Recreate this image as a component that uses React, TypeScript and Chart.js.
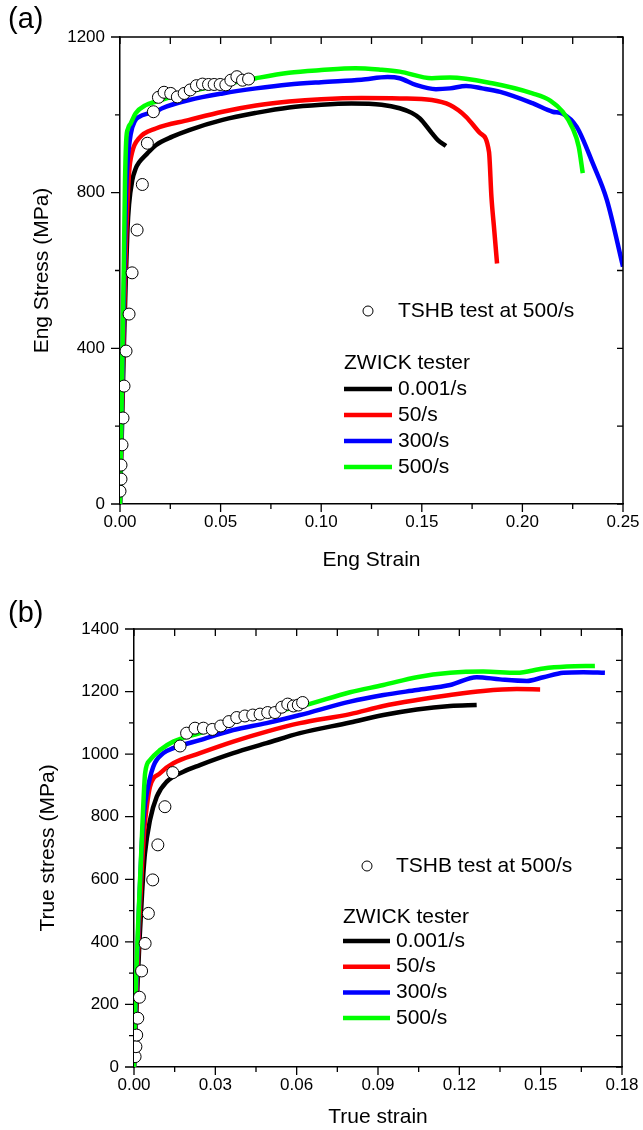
import React, { useEffect, useRef } from 'react';
import { Chart, registerables } from 'chart.js';

Chart.register(...registerables);

const FONT = '"Liberation Sans", Arial, Helvetica, sans-serif';

// ---------- shared labels / colours ----------
const rateLabels = ['0.001/s', '50/s', '300/s', '500/s'];
const rateColors = ['#000000', '#ff0000', '#0000ff', '#00ff00'];
const tshbLabel = 'TSHB test at 500/s';
const zwickTitle = 'ZWICK tester';

// ---------- (a) engineering stress-strain ----------
const engXTicks = [0, 0.05, 0.1, 0.15, 0.2, 0.25];
const engYTicks = [0, 400, 800, 1200];

const eng0001: [number, number][] = [
  [0, 0], [0.001, 200], [0.002, 420], [0.003, 600], [0.0037, 704], [0.0045, 770], [0.0061, 832],
  [0.0078, 862], [0.0095, 878], [0.0136, 901], [0.0178, 922], [0.026, 944], [0.0344, 961],
  [0.051, 987], [0.0676, 1005], [0.084, 1019], [0.1, 1026], [0.115, 1029], [0.13, 1026],
  [0.139, 1017], [0.145, 1005], [0.149, 991], [0.155, 953], [0.158, 935], [0.162, 920],
];
const eng50: [number, number][] = [
  [0, 0], [0.001, 250], [0.002, 480], [0.003, 680], [0.0045, 850], [0.0061, 905], [0.0095, 940],
  [0.0178, 965], [0.0344, 987], [0.051, 1008], [0.0676, 1024], [0.084, 1034], [0.1, 1040],
  [0.12, 1043], [0.139, 1042], [0.155, 1038], [0.164, 1025], [0.172, 995], [0.179, 953],
  [0.1834, 905], [0.1846, 790], [0.186, 704], [0.1874, 618],
];
const eng300: [number, number][] = [
  [0, 0], [0.001, 280], [0.002, 560], [0.003, 800], [0.0037, 875], [0.0053, 950], [0.0075, 985],
  [0.0095, 995], [0.0144, 1004], [0.0178, 1008], [0.021, 1017], [0.0344, 1038], [0.051, 1055],
  [0.0676, 1068], [0.084, 1078], [0.1, 1084], [0.12, 1090], [0.133, 1097], [0.139, 1094],
  [0.147, 1077], [0.157, 1066], [0.164, 1068], [0.172, 1074], [0.18, 1068], [0.189, 1059],
  [0.205, 1030], [0.215, 1008], [0.22, 1003], [0.227, 969], [0.235, 875], [0.242, 781], [0.25, 610],
];
const eng500: [number, number][] = [
  [0, 0], [0.001, 320], [0.002, 650], [0.0025, 832], [0.0031, 935], [0.004, 965], [0.0053, 978],
  [0.0078, 1004], [0.0128, 1025], [0.0178, 1034], [0.026, 1047], [0.0344, 1060], [0.051, 1077],
  [0.0676, 1094], [0.084, 1108], [0.1, 1115], [0.117, 1120], [0.13, 1116], [0.139, 1111],
  [0.155, 1094], [0.164, 1096], [0.185, 1081], [0.205, 1055], [0.214, 1036], [0.22, 1008],
  [0.225, 965], [0.228, 918], [0.23, 850],
];
const engTshb: [number, number][] = [
  [0, 33], [0.0005, 64], [0.0005, 100], [0.001, 152], [0.0015, 221], [0.002, 303], [0.003, 393],
  [0.0045, 488], [0.006, 594], [0.0085, 704], [0.0111, 821], [0.0136, 927], [0.0166, 1008],
  [0.0191, 1045], [0.0219, 1058], [0.0252, 1055], [0.0285, 1046], [0.0319, 1055], [0.0349, 1064],
  [0.038, 1075], [0.041, 1079], [0.044, 1078], [0.0468, 1078], [0.0498, 1078], [0.0526, 1077],
  [0.0551, 1089], [0.0581, 1098], [0.0609, 1089], [0.0639, 1092],
];

// ---------- (b) true stress-strain ----------
const trueXTicks = [0, 0.03, 0.06, 0.09, 0.12, 0.15, 0.18];
const trueYTicks = [0, 200, 400, 600, 800, 1000, 1200, 1400];

const true0001: [number, number][] = [
  [0, 0], [0.001, 200], [0.002, 400], [0.003, 560], [0.004, 680], [0.0059, 789], [0.0084, 864],
  [0.0121, 912], [0.0182, 944], [0.0243, 965], [0.0366, 1003], [0.0489, 1035], [0.0612, 1067],
  [0.0797, 1101], [0.092, 1125], [0.1043, 1143], [0.1166, 1154], [0.1264, 1157],
];
const true50: [number, number][] = [
  [0, 0], [0.001, 250], [0.002, 480], [0.003, 650], [0.0038, 760], [0.0047, 832], [0.0059, 896],
  [0.0096, 939], [0.0145, 971], [0.0243, 1003], [0.0366, 1040], [0.0489, 1072], [0.0612, 1099],
  [0.0797, 1128], [0.092, 1154], [0.1043, 1173], [0.1166, 1189], [0.1288, 1202], [0.1412, 1208],
  [0.1498, 1207],
];
const true300: [number, number][] = [
  [0, 0], [0.0008, 250], [0.0018, 500], [0.0028, 700], [0.0038, 820], [0.0047, 875], [0.0071, 960],
  [0.0108, 1003], [0.0145, 1019], [0.0243, 1045], [0.0366, 1077], [0.0489, 1099], [0.0612, 1125],
  [0.0797, 1168], [0.092, 1189], [0.1043, 1205], [0.1166, 1221], [0.1264, 1246], [0.135, 1239],
  [0.1449, 1234], [0.151, 1246], [0.1584, 1260], [0.1657, 1262], [0.1737, 1260],
];
const true500: [number, number][] = [
  [0, 0], [0.0005, 200], [0.0015, 450], [0.0025, 650], [0.0034, 832], [0.0041, 939], [0.0059, 981],
  [0.0096, 1013], [0.0145, 1040], [0.0243, 1067], [0.0366, 1104], [0.0489, 1131], [0.0612, 1152],
  [0.0797, 1198], [0.092, 1221], [0.1043, 1246], [0.1166, 1260], [0.1288, 1264], [0.1412, 1260],
  [0.151, 1274], [0.1596, 1280], [0.17, 1282],
];
const trueTshb: [number, number][] = [
  [0.0004, 33], [0.0007, 65], [0.001, 102], [0.0014, 156], [0.002, 223], [0.0028, 307],
  [0.0041, 395], [0.0053, 491], [0.0069, 598], [0.0088, 710], [0.0114, 832], [0.0143, 941],
  [0.017, 1026], [0.0194, 1067], [0.0225, 1083], [0.0256, 1083], [0.0289, 1079], [0.032, 1090],
  [0.035, 1104], [0.0379, 1117], [0.0409, 1122], [0.0438, 1125], [0.0465, 1128], [0.0493, 1133],
  [0.052, 1133], [0.0545, 1150], [0.0567, 1160], [0.0588, 1154], [0.0606, 1157], [0.0622, 1165],
];

// ---------- plugins ----------
const mids = (arr: number[]) => arr.slice(1).map((v, i) => (v + arr[i]) / 2);

const frameTicks = {
  id: 'frameTicks',
  afterDraw(chart: any) {
    const { ctx, chartArea: a, scales } = chart;
    const x = scales.x;
    const y = scales.y;
    const xMaj: number[] = x.ticks.map((t: any) => t.value);
    const yMaj: number[] = y.ticks.map((t: any) => t.value);
    const xMin = mids(xMaj);
    const yMin = mids(yMaj);
    ctx.save();
    ctx.strokeStyle = '#000';
    ctx.lineWidth = 1.5;
    ctx.beginPath();
    ctx.moveTo(a.left, a.top);
    ctx.lineTo(a.right, a.top);
    ctx.lineTo(a.right, a.bottom);
    ctx.stroke();
    ctx.lineWidth = 1.3;
    ctx.beginPath();
    xMaj.forEach((v) => {
      const px = x.getPixelForValue(v);
      ctx.moveTo(px, a.bottom); ctx.lineTo(px, a.bottom + 8);
      ctx.moveTo(px, a.top); ctx.lineTo(px, a.top + 7);
    });
    xMin.forEach((v) => {
      const px = x.getPixelForValue(v);
      ctx.moveTo(px, a.bottom); ctx.lineTo(px, a.bottom + 5);
      ctx.moveTo(px, a.top); ctx.lineTo(px, a.top + 7);
    });
    yMaj.forEach((v) => {
      const py = y.getPixelForValue(v);
      ctx.moveTo(a.left, py); ctx.lineTo(a.left - 9, py);
      ctx.moveTo(a.right, py); ctx.lineTo(a.right - 6, py);
    });
    yMin.forEach((v) => {
      const py = y.getPixelForValue(v);
      ctx.moveTo(a.left, py); ctx.lineTo(a.left - 5, py);
      ctx.moveTo(a.right, py); ctx.lineTo(a.right - 6, py);
    });
    ctx.stroke();
    ctx.restore();
  },
};

const zwickLegend = {
  id: 'zwickLegend',
  afterDraw(chart: any, _args: any, opts: any) {
    const { ctx } = chart;
    const ds = chart.data.datasets;
    ctx.save();
    ctx.font = `21px ${FONT}`;
    ctx.textBaseline = 'middle';
    ctx.textAlign = 'left';
    ctx.beginPath();
    ctx.arc(opts.markX, opts.markY, 5, 0, Math.PI * 2);
    ctx.fillStyle = '#fff';
    ctx.fill();
    ctx.lineWidth = 1;
    ctx.strokeStyle = '#000';
    ctx.stroke();
    ctx.fillStyle = '#000';
    ctx.fillText(ds[0].label, opts.textX, opts.markY);
    ctx.fillText(opts.title, opts.lineX1, opts.titleY);
    for (let i = 1; i < ds.length; i++) {
      const yy = opts.rowY0 + (i - 1) * opts.rowStep;
      ctx.beginPath();
      ctx.strokeStyle = ds[i].borderColor;
      ctx.lineWidth = 4.5;
      ctx.moveTo(opts.lineX1, yy);
      ctx.lineTo(opts.lineX2, yy);
      ctx.stroke();
      ctx.fillStyle = '#000';
      ctx.fillText(ds[i].label, opts.textX, yy);
    }
    ctx.restore();
  },
};

type Spec = {
  circles: [number, number][];
  lines: [number, number][][];
  xTicks: number[];
  yTicks: number[];
  xTitle: string;
  yTitle: string;
  yAxisWidth: number;
  xAxisHeight: number;
  padding: { left: number; top: number; right: number; bottom: number };
  yTitlePad: number;
  xTitlePad: number;
  legend: any;
};

function buildChart(canvas: HTMLCanvasElement, s: Spec) {
  const toXY = (d: [number, number][]) => d.map(([x, y]) => ({ x, y }));
  const datasets: any[] = [
    {
      label: tshbLabel,
      data: toXY(s.circles),
      showLine: false,
      pointRadius: 6,
      pointStyle: 'circle',
      pointBackgroundColor: '#ffffff',
      pointBorderColor: '#000000',
      pointBorderWidth: 1,
      order: 0,
    },
    ...s.lines.map((d, i) => ({
      label: rateLabels[i],
      data: toXY(d),
      showLine: true,
      borderColor: rateColors[i],
      backgroundColor: rateColors[i],
      borderWidth: 4.5,
      pointRadius: 0,
      cubicInterpolationMode: 'monotone',
      order: 4 - i,
    })),
  ];
  const tickFont = { family: FONT, size: 17 };
  const titleFont = { family: FONT, size: 21 };
  const xs = s.xTicks;
  const ys = s.yTicks;
  return new Chart(canvas, {
    type: 'scatter',
    data: { datasets },
    options: {
      responsive: false,
      animation: false,
      devicePixelRatio: 1,
      layout: { padding: s.padding },
      plugins: {
        legend: { display: false },
        tooltip: { enabled: false },
        zwickLegend: s.legend,
      } as any,
      scales: {
        x: {
          type: 'linear',
          min: xs[0],
          max: xs[xs.length - 1],
          afterBuildTicks: (sc: any) => { sc.ticks = xs.map((v) => ({ value: v })); },
          afterFit: (sc: any) => { sc.height = s.xAxisHeight; },
          ticks: {
            callback: (v: any) => Number(v).toFixed(2),
            font: tickFont,
            color: '#000',
            padding: 0,
            maxRotation: 0,
            autoSkip: false,
          },
          grid: { drawOnChartArea: false, drawTicks: true, tickLength: 8, color: 'rgba(0,0,0,0)' },
          border: { display: true, color: '#000', width: 1.5 },
          title: {
            display: true,
            text: s.xTitle,
            font: titleFont,
            color: '#000',
            padding: { top: 0, bottom: s.xTitlePad },
          },
        },
        y: {
          type: 'linear',
          min: ys[0],
          max: ys[ys.length - 1],
          afterBuildTicks: (sc: any) => { sc.ticks = ys.map((v) => ({ value: v })); },
          afterFit: (sc: any) => { sc.width = s.yAxisWidth; },
          ticks: {
            callback: (v: any) => String(v),
            font: tickFont,
            color: '#000',
            padding: 5,
            autoSkip: false,
          },
          grid: { drawOnChartArea: false, drawTicks: true, tickLength: 10, color: 'rgba(0,0,0,0)' },
          border: { display: true, color: '#000', width: 1.5 },
          title: {
            display: true,
            text: s.yTitle,
            font: titleFont,
            color: '#000',
            padding: { top: s.yTitlePad, bottom: 0 },
          },
        },
      },
    } as any,
    plugins: [frameTicks, zwickLegend],
  });
}

export default function App() {
  const refA = useRef<HTMLCanvasElement>(null);
  const refB = useRef<HTMLCanvasElement>(null);

  useEffect(() => {
    const chartA = buildChart(refA.current!, {
      circles: engTshb,
      lines: [eng0001, eng50, eng300, eng500],
      xTicks: engXTicks,
      yTicks: engYTicks,
      xTitle: 'Eng Strain',
      yTitle: 'Eng Stress (MPa)',
      yAxisWidth: 120,
      xAxisHeight: 71,
      padding: { left: 0, top: 37, right: 20, bottom: 0 },
      yTitlePad: 30,
      xTitlePad: 2,
      legend: {
        markX: 368, markY: 311, textX: 398, title: zwickTitle, titleY: 363,
        lineX1: 344, lineX2: 392, rowY0: 389, rowStep: 26,
      },
    });
    const chartB = buildChart(refB.current!, {
      circles: trueTshb,
      lines: [true0001, true50, true300, true500],
      xTicks: trueXTicks,
      yTicks: trueYTicks,
      xTitle: 'True strain',
      yTitle: 'True stress (MPa)',
      yAxisWidth: 134,
      xAxisHeight: 63,
      padding: { left: 0, top: 54, right: 21, bottom: 0 },
      yTitlePad: 36,
      xTitlePad: 0,
      legend: {
        markX: 367, markY: 291, textX: 396, title: zwickTitle, titleY: 342,
        lineX1: 343, lineX2: 390, rowY0: 366, rowStep: 25.7,
      },
    });
    return () => {
      chartA.destroy();
      chartB.destroy();
    };
  }, []);

  const panelLabel: React.CSSProperties = {
    position: 'absolute',
    left: 8,
    fontFamily: FONT,
    fontSize: 29,
    lineHeight: '36px',
    color: '#000',
  };

  return (
    <div style={{ position: 'absolute', left: 0, top: 0, width: 643, height: 1130, background: '#fff' }}>
      <canvas ref={refA} width={643} height={575} style={{ position: 'absolute', left: 0, top: 0 }} />
      <canvas ref={refB} width={643} height={555} style={{ position: 'absolute', left: 0, top: 575 }} />
      <div style={{ ...panelLabel, top: 0 }}>(a)</div>
      <div style={{ ...panelLabel, top: 594 }}>(b)</div>
    </div>
  );
}
